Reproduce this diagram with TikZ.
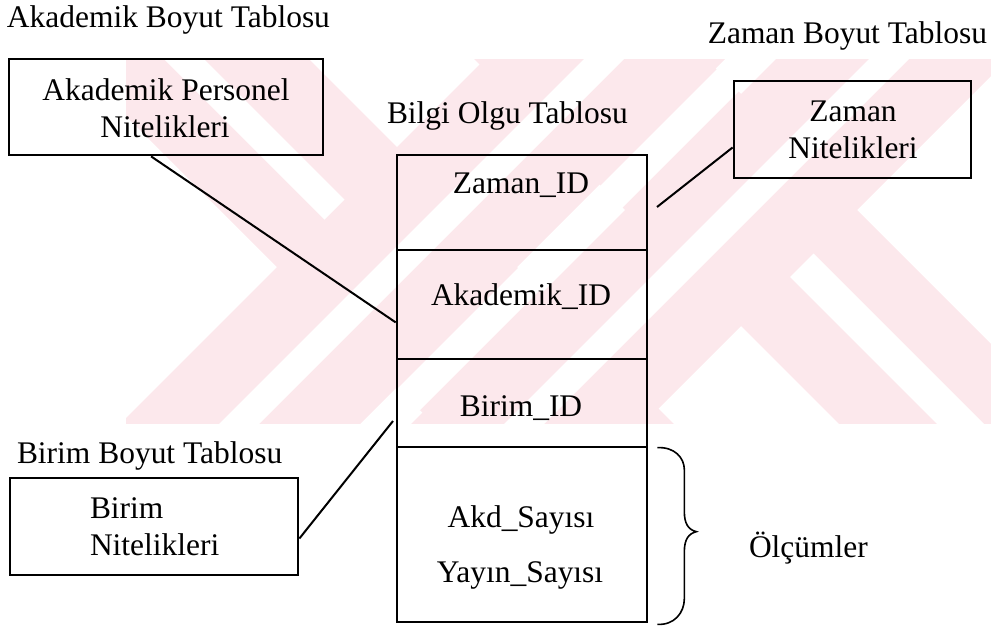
\documentclass[tikz,border=0pt]{standalone}
\usepackage{fontspec}
\setmainfont{Liberation Serif}
\usetikzlibrary{calc}

\definecolor{wmpink}{RGB}{252,232,236}

\tikzset{
  dimbox/.style={draw=black, line width=2.1pt, rectangle, inner sep=0pt},
  cell/.style={draw=black, line width=2pt, rectangle, inner sep=0pt,
               minimum width=250*0.75pt},
  link/.style={draw=black, line width=1.5pt},
  txt/.style={inner sep=0pt, outer sep=0pt, anchor=base,
              font=\fontsize{23.6pt}{28pt}\selectfont},
  txtw/.style={txt, anchor=base west},
  txte/.style={txt, anchor=base east},
}

\begin{document}
\begin{tikzpicture}[x=0.75pt, y=-0.75pt]
\useasboundingbox (0,0) rectangle (991,626);

% faint watermark: two crossed pairs of diagonal bands
\begin{scope}
  \clip (126,59) rectangle (991,423);
  \fill[wmpink] (-200,-450) -- (1200,950) -- (1200,1190) -- (-200,-210) -- cycle;
  \fill[wmpink] (-200,744) -- (1200,-656) -- (1200,-416) -- (-200,984) -- cycle;
  \fill[wmpink] (-200,-847) -- (1200,553) -- (1200,785) -- (-200,-615) -- cycle;
  \fill[wmpink] (-200,1035) -- (1200,-365) -- (1200,-133) -- (-200,1267) -- cycle;
  % light gaps inside the bands
  \fill[white] (-200,-345) -- (344.5,199.5) -- (324.5,219.5) -- (-200,-305) -- cycle;
  \fill[white] (813.5,253.5) -- (1400,840) -- (1400,887) -- (790,277) -- cycle;
  \fill[white] (-200,843) -- (1200,-557) -- (1200,-517) -- (-200,883) -- cycle;
  \fill[white] (-200,986) -- (1200,-414) -- (1200,-370) -- (-200,1030) -- cycle;
  \fill[white] (-200,1128) -- (1200,-272) -- (1200,-232) -- (-200,1168) -- cycle;
\end{scope}

% dimension tables
\node[dimbox, minimum width=314*0.75pt, minimum height=96*0.75pt] (akbox) at (166,107) {};
\node[dimbox, minimum width=237*0.75pt, minimum height=97*0.75pt] (zbox) at (852.5,129.5) {};
\node[dimbox, minimum width=288*0.75pt, minimum height=97*0.75pt] (bbox) at (154,526.5) {};

% fact table cells
\node[cell, minimum height=95*0.75pt]  (zc) at (522,202.5) {};
\node[cell, minimum height=109*0.75pt] (ac) at (522,304.5) {};
\node[cell, minimum height=88*0.75pt]  (bc) at (522,403) {};
\node[cell, minimum height=175*0.75pt] (mc) at (522,534.5) {};

% captions
\node[txtw] (capak) at (7,27) {Akademik Boyut Tablosu};
\node[txte] (capz) at (987,43) {Zaman Boyut Tablosu};
\node[txtw] (capf) at (387,123) {Bilgi Olgu Tablosu};
\node[txtw] (capb) at (17,463) {Birim Boyut Tablosu};

% box texts
\node[txt] (ak1) at (166,100) {Akademik Personel};
\node[txt] (ak2) at (165,137) {Nitelikleri};
\node[txt] (z1) at (853,121) {Zaman};
\node[txt] (z2) at (853,158) {Nitelikleri};
\node[txtw] (b1) at (90,518) {Birim};
\node[txtw] (b2) at (90,555) {Nitelikleri};

% fact table fields
\node[txt] (fz) at (521,193) {Zaman\_ID};
\node[txt] (fa) at (521,305) {Akademik\_ID};
\node[txt] (fb) at (521,416) {Birim\_ID};
\node[txt] (fm1) at (521,527) {Akd\_Sayısı};
\node[txt] (fm2) at (520,582) {Yayın\_Sayısı};

\node[txtw] (olc) at (749,557) {Ölçümler};

% connectors
\coordinate (zfree) at (657,207);
\coordinate (bfree) at (393,421);
\draw[link] ($(akbox.south west)!0.453!(akbox.south east)$) -- ($(ac.north west)!0.66!(ac.south west)$);
\draw[link] (zfree) -- ($(zbox.north west)!0.68!(zbox.south west)$);
\draw[link] ($(bbox.north east)!0.62!(bbox.south east)$) -- (bfree);

% brace over the measures
\draw[line width=1.2pt]
  ($(mc.north east)+(9,2)$) .. controls +(17,-1) and +(0,-12) .. ($(mc.north east)+(36,24)$)
  -- ($(mc.north east)+(36,66)$)
  .. controls +(0,12) and +(-8,-2) .. ($(mc.north east)+(48,86)$)
  .. controls +(-8,2) and +(0,-12) .. ($(mc.north east)+(36,106)$)
  -- ($(mc.north east)+(36,153)$)
  .. controls +(0,14) and +(17,1) .. ($(mc.south east)+(9,1)$);
\end{tikzpicture}
\end{document}
